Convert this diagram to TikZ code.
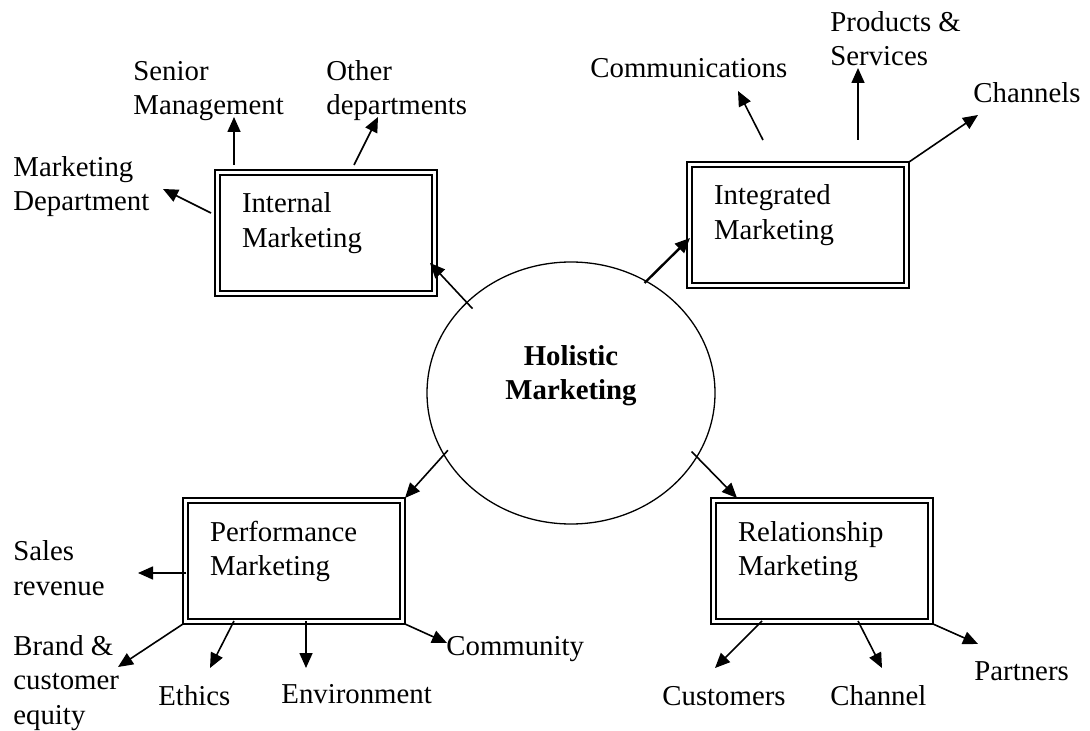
\documentclass[tikz,border=0pt]{standalone}
\usepackage{fontspec}
\setmainfont{Liberation Serif}
\usetikzlibrary{shapes.geometric,arrows.meta,positioning}

\begin{document}
\begin{tikzpicture}[x=0.5pt,y=-0.5pt,
	every node/.style={font=\fontsize{14.4}{17.2}\selectfont},
	mkbox/.style={draw,line width=1.35pt,outer sep=0pt,anchor=north west,align=left,text width=84pt,inner xsep=13.5pt,inner ysep=0pt,text height=21.5pt,text depth=41.5pt},
	lbl/.style={anchor=base west,align=left,inner sep=0pt},
	link/.style={-{Triangle[length=7.5pt,width=6.5pt]},line width=0.8pt}]
	\useasboundingbox (0,0) rectangle (1090,731);

	\node[ellipse,draw,line width=0.65pt,minimum width=144pt,minimum height=131pt,inner sep=0pt,align=center,font=\fontsize{14.4}{17.2}\selectfont\bfseries,text height=17pt,text depth=10pt] (hm) at (571,393) {Holistic\\Marketing};

	\node[mkbox] (int) at (215,170) {Internal\\Marketing};
	\node[mkbox] (integ) at (687,162) {Integrated\\Marketing};
	\node[mkbox] (perf) at (183,498) {Performance\\Marketing};
	\node[mkbox] (rel) at (711,498) {Relationship\\Marketing};
	\foreach \b in {int,integ,perf,rel}
		\draw[line width=0.9pt] ([shift={(2.5pt,-2.5pt)}]\b.north west) rectangle ([shift={(-2.5pt,2.5pt)}]\b.south east);

	\node[lbl] (senior) at (133,115) {Senior\\Management};
	\node[lbl] (other) at (326,115) {Other\\departments};
	\node[lbl] (mdept) at (13,211) {Marketing\\Department};
	\node[lbl] (comm) at (590,78) {Communications};
	\node[lbl] (prod) at (830,66) {Products \&\\Services};
	\node[lbl] (chans) at (973,103) {Channels};
	\node[lbl] (sales) at (13,595) {Sales\\revenue};
	\node[lbl] (brand) at (13,724) {Brand \&\\customer\\equity};
	\node[lbl] (ethics) at (158,705) {Ethics};
	\node[lbl] (envir) at (281,703) {Environment};
	\node[lbl] (commty) at (446,655) {Community};
	\node[lbl] (cust) at (662,705) {Customers};
	\node[lbl] (chan) at (830,705) {Channel};
	\node[lbl] (partn) at (974,680) {Partners};

	\coordinate (tsen) at (234,117);
	\coordinate (toth) at (378,117);
	\coordinate (tmd) at (163,189);
	\coordinate (tcom) at (738,91);
	\coordinate (tprod) at (858,68);
	\coordinate (tchs) at (978,115);
	\coordinate (tsal) at (138,573);
	\coordinate (tbra) at (118,667);
	\coordinate (teth) at (210,668);
	\coordinate (tenv) at (306,668);
	\coordinate (tcmy) at (447,643);
	\coordinate (tcus) at (715,668);
	\coordinate (tchn) at (882,668);
	\coordinate (tpar) at (978,644);

	% from the centre
	\draw[link,shorten <=-4.5pt] (hm.139) -- ([shift={(-7,-33)}]int.south east);
	\draw[link,line width=1.2pt,shorten <=-1.5pt] (hm.56.8) -- ([shift={(3,-50)}]integ.south west);
	\draw[link,shorten <=-3.3pt] (hm.206.6) -- (perf.north east);
	\draw[link,shorten <=-4pt] (hm.333.2) -- ([shift={(26,0)}]rel.north west);

	\draw[link] ([shift={(19,-5)}]int.north west) -- (tsen);
	\draw[link] ([shift={(139,-5)}]int.north west) -- (toth);
	\draw[link] ([shift={(-4,43)}]int.north west) -- (tmd);
	\draw[link] ([shift={(76,-22)}]integ.north west) -- (tcom);
	\draw[link] ([shift={(171,-22)}]integ.north west) -- (tprod);
	\draw[link] (integ.north east) -- (tchs);
	\draw[link] ([shift={(3,75)}]perf.north west) -- (tsal);
	\draw[link] (perf.south west) -- (tbra);
	\draw[link] ([shift={(51,-3)}]perf.south west) -- (teth);
	\draw[link] ([shift={(123,-3)}]perf.south west) -- (tenv);
	\draw[link] (perf.south east) -- (tcmy);
	\draw[link] ([shift={(51,-3)}]rel.south west) -- (tcus);
	\draw[link] ([shift={(147,-3)}]rel.south west) -- (tchn);
	\draw[link] (rel.south east) -- (tpar);
\end{tikzpicture}
\end{document}
